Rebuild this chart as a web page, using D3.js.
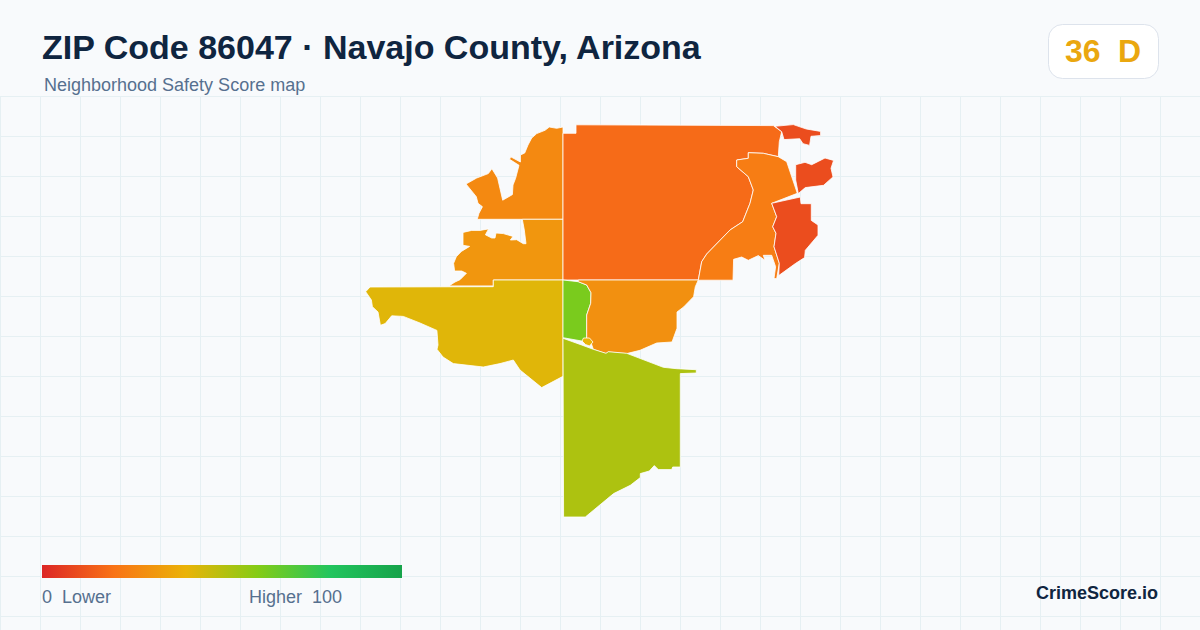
<!DOCTYPE html>
<html>
<head>
<meta charset="utf-8">
<script src="https://cdn.jsdelivr.net/npm/d3@7"></script>
<style>
html, body { margin: 0; padding: 0; background: #f8fafc; }
svg { display: block; font-family: "Liberation Sans", Arial, sans-serif; }
</style>
</head>
<body>
<div id="chart"></div>
<script>
// score of each zone
const zoneNames = ['nwUpper', 'nwLower', 'north', 'east', 'eastRed', 'neTip', 'neRed', 'west', 'town', 'middle', 'south', 'tiny'];
const zoneScores = [27, 31, 18, 23, 10, 10, 10, 42, 62, 29, 52, 40];

// outlines in map units
const nwUpper = [[563,127],[556.7,128.3],[549.3,127],[545,130.3],[536.7,133.6],[531.7,138],[528,145],[524.7,153],[520.4,155],[520.4,162],[510.7,156.8],[509.6,159.3],[519,165.3],[515.6,178.3],[513,185],[512.4,194.6],[502.7,200.2],[497.6,178],[491.9,168.7],[488.3,173.6],[476.7,178],[466,184],[476.3,196.7],[478,203.3],[482.4,206.7],[479,213.3],[477.2,219.3],[563,219.3]];
const nwLower = [[522.3,219.3],[563,219.3],[563,280],[493.3,280],[493.3,285.9],[449,285.9],[455,282],[460,279.7],[466.4,273.3],[461.7,271],[454.6,271],[453.6,263.3],[456.3,256.7],[461.4,251.4],[469.6,246.4],[463,245.3],[463,232.4],[471.7,230.4],[480,230.4],[488.6,228.9],[485.4,234.8],[491.7,238],[495,238],[496,233],[503.3,233.6],[513,236.4],[510.4,240],[516.7,239.7],[523.3,243.7],[526,243.7],[524.3,230]];
const north = [[563,133.3],[576,133.3],[576,124.8],[773.3,125.6],[781.7,131.7],[779.3,141.7],[778.3,156.7],[763.3,153.3],[748.3,152.7],[748.3,158.3],[736.7,160],[736.7,166.7],[748.3,176.7],[753.3,190],[750,203.3],[742.7,221.7],[730,230],[706.7,254],[701.7,261.7],[698.3,280],[563,280]];
const east = [[778.3,156.7],[786.7,161.7],[797.3,193.3],[771.7,203.3],[776.7,216.7],[772.7,226.7],[776,233.3],[774,246.7],[779.3,263.3],[776.7,278.6],[774,278.6],[775.6,266.7],[771.7,255.3],[763.3,255.3],[765,260.3],[758.3,255.6],[748.3,260.3],[741.7,257],[733.6,259.3],[733,280.2],[698.3,280.2],[701.7,261.7],[706.7,254],[730,230],[742.7,221.7],[750,203.3],[753.3,190],[748.3,176.7],[736.7,166.7],[736.7,160],[748.3,158.3],[748.3,152.7],[763.3,153.3]];
const eastRed = [[771.7,203.3],[800.3,197],[801,203.7],[811.3,203.7],[811.3,220.4],[818,225],[818,235.3],[805.3,250.3],[804.6,257.6],[795.3,263.6],[778.7,275.6],[779.3,263.3],[774,246.7],[776,233.3],[772.7,226.7],[776.7,216.7]];
const neTip = [[775,126.3],[793.3,124.6],[806.3,129],[820.6,131.4],[820.6,135.6],[811,136.3],[809.6,145.4],[803,143.7],[799.7,138.7],[784,139.6],[781.7,131.7]];
const neRed = [[795.7,164.7],[805,162.3],[811.7,164.7],[818.3,161.4],[825,158],[833.6,160.4],[831,168.3],[833,176.9],[823.6,185.3],[805.3,187.6],[798.3,193.6],[795.7,180]];
const west = [[563,280],[493.3,280],[493.3,286.7],[370,287],[365.7,291.7],[371.4,300],[372.4,306.7],[378,312],[380.4,325.3],[385.2,323.6],[391.7,315.8],[403.3,316.4],[420,323],[436.9,330.4],[438,345],[437,349.3],[443,357],[453.3,363.6],[483.3,367],[500,363.6],[513.3,360],[520,370],[541.7,387.6],[563,376.3]];
const town = [[563,280],[578.3,281.7],[586.7,285],[591,292.7],[590.7,303.3],[586.7,315],[586.7,338.3],[581.7,341],[563,337.7]];
const middle = [[578.3,281.7],[578.3,280],[698.3,280],[695.3,286.7],[693.6,296.7],[683.6,307],[677,312],[677,328.3],[672,342],[656.7,343],[640,350.3],[626.7,353.6],[608.3,352],[606,353.6],[593.3,349.3],[590.7,341.7],[586.7,338.3],[586.7,315],[590.7,303.3],[591,292.7],[586.7,285]];
const south = [[563,338.3],[581.7,345],[593.3,349.3],[606,353.3],[608.3,351.7],[626.7,353.3],[663.3,367.3],[676.7,368.7],[696.3,369.7],[696.3,373],[680.3,373.6],[680.3,467],[672.7,467],[671.7,469.6],[658.3,469.6],[654.3,465.6],[649.3,471],[640.3,473.6],[640.3,477.6],[630.3,485.3],[613.6,493.6],[585.3,517],[563.6,517]];
const tiny = [[583.5,338],[589.5,338],[593,342],[589.5,346],[585.5,344.5],[582,341]];
const zoneOutlines = [nwUpper, nwLower, north, east, eastRed, neTip, neRed, west, town, middle, south, tiny];

// legend scale
const legendStops = [0, 20, 40, 60, 80, 100];
const legendColors = ['#dc2626', '#f97316', '#eab308', '#84cc16', '#22c55e', '#16a34a'];

const titleText = 'ZIP Code 86047 \u00b7 Navajo County, Arizona';
const subtitleText = 'Neighborhood Safety Score map';
const badgeScore = '36';
const badgeGrade = 'D';

const width = 1200;
const height = 630;

const svg = d3.select('#chart')
    .append('svg')
    .attr('width', width)
    .attr('height', height);

svg.append('rect')
    .attr('width', width)
    .attr('height', height)
    .attr('fill', '#f8fafc');

// background grid
const grid = svg.append('g').attr('stroke', '#e6f0f3').attr('stroke-width', 1);
grid.selectAll('.gv')
    .data(d3.range(0, width, 40))
    .enter().append('line')
    .attr('x1', d => d + 0.5).attr('x2', d => d + 0.5)
    .attr('y1', 96).attr('y2', height);
grid.selectAll('.gh')
    .data(d3.range(96, height, 40))
    .enter().append('line')
    .attr('x1', 0).attr('x2', width)
    .attr('y1', d => d + 0.5).attr('y2', d => d + 0.5);

const color = d3.scaleLinear()
    .domain(legendStops)
    .range(legendColors);

const path = d3.geoPath(d3.geoIdentity());

const features = zoneNames.map((name, i) => ({
    type: 'Feature',
    properties: { name: name, score: zoneScores[i] },
    geometry: { type: 'Polygon', coordinates: [zoneOutlines[i].concat([zoneOutlines[i][0]])] }
}));

svg.append('g')
    .selectAll('path')
    .data(features)
    .enter().append('path')
    .attr('d', path)
    .attr('fill', d => color(d.properties.score))
    .attr('stroke', '#ffffff')
    .attr('stroke-width', 0.8)
    .attr('stroke-linejoin', 'round');

// header
svg.append('text')
    .attr('x', 42).attr('y', 59)
    .attr('font-size', 34).attr('font-weight', 700)
    .attr('fill', '#0f2540')
    .text(titleText);

svg.append('text')
    .attr('x', 44).attr('y', 91)
    .attr('font-size', 18)
    .attr('fill', '#56708f')
    .text(subtitleText);

// score badge
svg.append('rect')
    .attr('x', 1048.5).attr('y', 24.5)
    .attr('width', 110).attr('height', 54)
    .attr('rx', 14)
    .attr('fill', '#ffffff')
    .attr('stroke', '#dde3ec');

svg.append('text')
    .attr('x', 1065).attr('y', 62)
    .attr('font-size', 32).attr('font-weight', 700)
    .attr('fill', '#eaa70f')
    .text(badgeScore);

svg.append('text')
    .attr('x', 1118).attr('y', 62)
    .attr('font-size', 32).attr('font-weight', 700)
    .attr('fill', '#eaa70f')
    .text(badgeGrade);

// legend
const legendX = d3.scaleLinear().domain([0, 100]).range([42, 402]);

const gradient = svg.append('defs').append('linearGradient').attr('id', 'legend-gradient');
gradient.selectAll('stop')
    .data(legendStops)
    .enter().append('stop')
    .attr('offset', d => d + '%')
    .attr('stop-color', d => color(d));

svg.append('rect')
    .attr('x', legendX(0)).attr('y', 565)
    .attr('width', legendX(100) - legendX(0)).attr('height', 13)
    .attr('fill', 'url(#legend-gradient)');

svg.append('text')
    .attr('x', 42).attr('y', 603)
    .attr('font-size', 18).attr('fill', '#56708f')
    .attr('xml:space', 'preserve')
    .text('0  Lower');

svg.append('text')
    .attr('x', 342).attr('y', 603)
    .attr('text-anchor', 'end')
    .attr('font-size', 18).attr('fill', '#56708f')
    .attr('xml:space', 'preserve')
    .text('Higher  100');

svg.append('text')
    .attr('x', 1158).attr('y', 599)
    .attr('text-anchor', 'end')
    .attr('font-size', 18).attr('font-weight', 700)
    .attr('fill', '#0f2540')
    .text('CrimeScore.io');
</script>
</body>
</html>
